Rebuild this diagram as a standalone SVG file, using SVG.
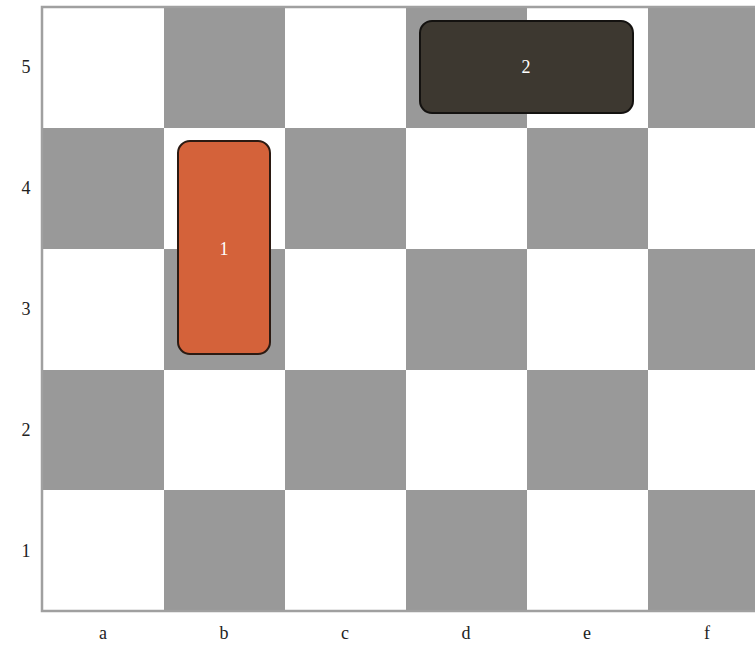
<svg xmlns="http://www.w3.org/2000/svg" width="755" height="646" viewBox="0 0 755 646">
<style>
.w{fill:#ffffff}
.g{fill:#999999}
.lbl{font-family:"Liberation Serif","DejaVu Serif",serif;font-size:18px;fill:#222;text-anchor:middle}
.pl{font-family:"Liberation Serif","DejaVu Serif",serif;font-size:18px;fill:#ffffff;text-anchor:middle}
</style>
<rect width="755" height="646" fill="#ffffff"/>
<g id="board">
<rect x="42" y="7" width="713" height="604" fill="#ffffff"/>
<!-- row 5 -->
<rect class="g" x="164" y="7" width="121" height="121"/>
<rect class="g" x="406" y="7" width="121" height="121"/>
<rect class="g" x="648" y="7" width="107" height="121"/>
<!-- row 4 -->
<rect class="g" x="42" y="128" width="122" height="121"/>
<rect class="g" x="285" y="128" width="121" height="121"/>
<rect class="g" x="527" y="128" width="121" height="121"/>
<!-- row 3 -->
<rect class="g" x="164" y="249" width="121" height="121"/>
<rect class="g" x="406" y="249" width="121" height="121"/>
<rect class="g" x="648" y="249" width="107" height="121"/>
<!-- row 2 -->
<rect class="g" x="42" y="370" width="122" height="120"/>
<rect class="g" x="285" y="370" width="121" height="120"/>
<rect class="g" x="527" y="370" width="121" height="120"/>
<!-- row 1 -->
<rect class="g" x="164" y="490" width="121" height="121"/>
<rect class="g" x="406" y="490" width="121" height="121"/>
<rect class="g" x="648" y="490" width="107" height="121"/>
<path d="M756 7 H42 V611 H756" fill="none" stroke="#a0a0a0" stroke-width="2.5"/>
</g>
<g id="labels">
<text class="lbl" x="26" y="73">5</text>
<text class="lbl" x="26" y="194">4</text>
<text class="lbl" x="26" y="315">3</text>
<text class="lbl" x="26" y="436">2</text>
<text class="lbl" x="26" y="557">1</text>
<text class="lbl" x="103" y="639">a</text>
<text class="lbl" x="224" y="639">b</text>
<text class="lbl" x="345" y="639">c</text>
<text class="lbl" x="466" y="639">d</text>
<text class="lbl" x="587" y="639">e</text>
<text class="lbl" x="707" y="639">f</text>
</g>
<g id="connectors"/>
<g id="piece1">
<rect x="178" y="141" width="92" height="213" rx="12" ry="12" fill="#d4623a" stroke="#2b1a12" stroke-width="2"/>
<text class="pl" x="224" y="255">1</text>
</g>
<g id="piece2">
<rect x="420" y="21" width="213" height="92" rx="12" ry="12" fill="#3d3830" stroke="#141210" stroke-width="2"/>
<text class="pl" x="526" y="73">2</text>
</g>
</svg>
